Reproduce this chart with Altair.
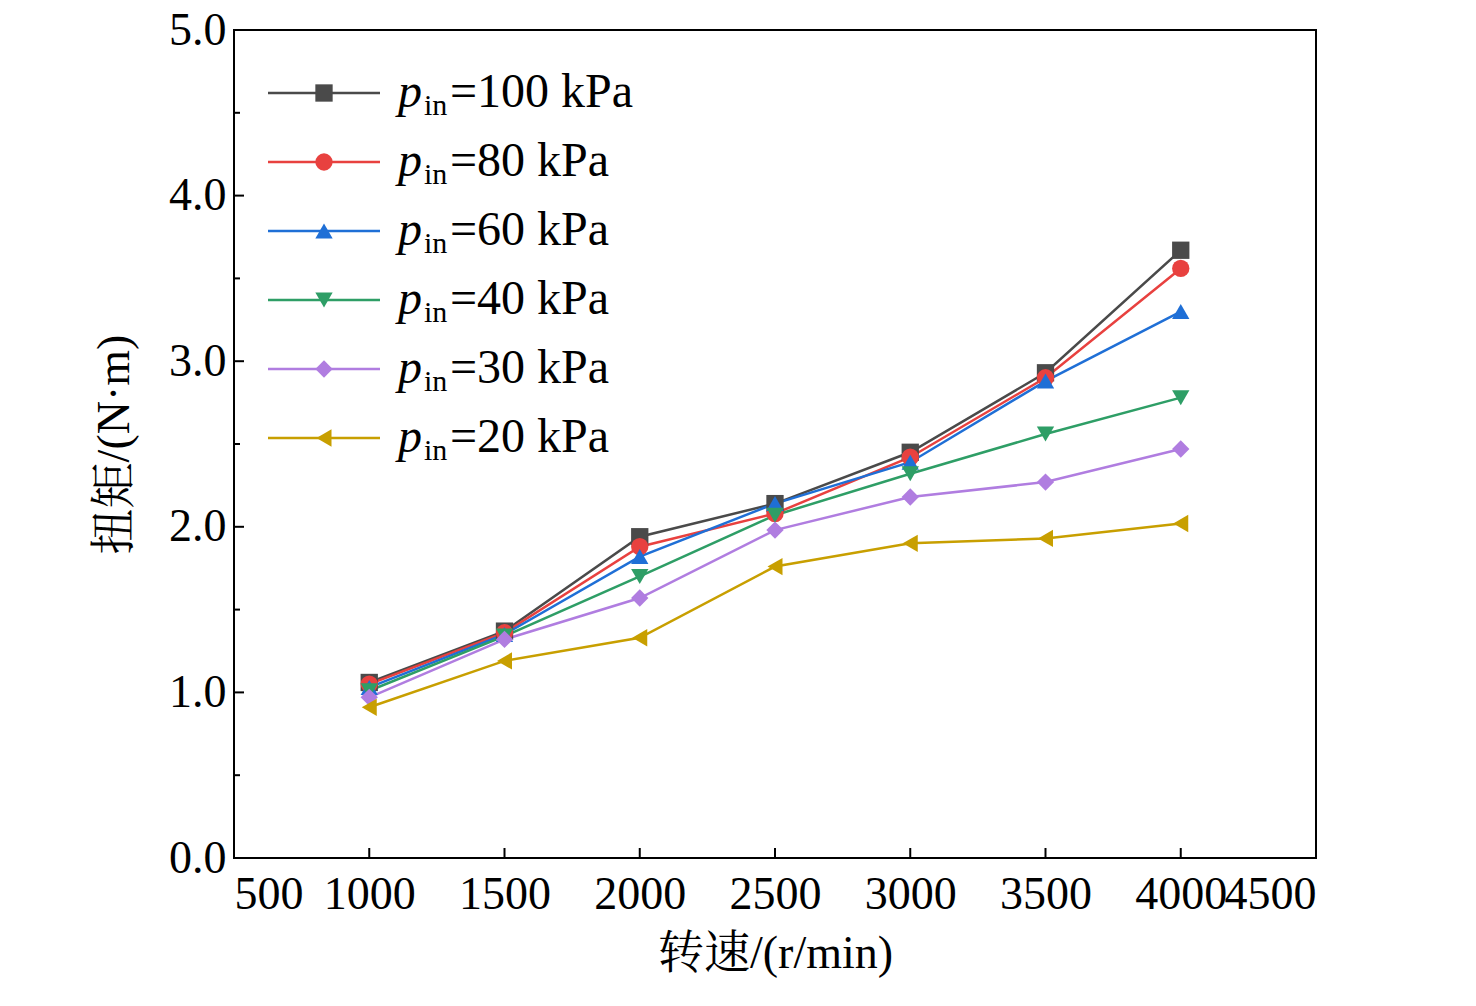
import altair as alt
import pandas as pd

speeds = [1000, 1500, 2000, 2500, 3000, 3500, 4000]
series = ["100", "80", "60", "40", "30", "20"]
torque = {
    "100": [1.06, 1.37, 1.94, 2.14, 2.45, 2.93, 3.67],
    "80": [1.05, 1.36, 1.88, 2.08, 2.42, 2.90, 3.56],
    "60": [1.03, 1.35, 1.82, 2.14, 2.39, 2.88, 3.30],
    "40": [1.01, 1.34, 1.70, 2.07, 2.32, 2.56, 2.78],
    "30": [0.97, 1.32, 1.57, 1.98, 2.18, 2.27, 2.47],
    "20": [0.91, 1.19, 1.33, 1.76, 1.90, 1.93, 2.02],
}
colors = ["#4a4a4a", "#e8413f", "#1f6fd6", "#2e9e66", "#b07de0", "#c89f00"]
shapes = ["square", "circle", "triangle-up", "triangle-down", "diamond", "triangle-left"]
x_ticks = [500, 1000, 1500, 2000, 2500, 3000, 3500, 4000, 4500]
y_major = [0, 1, 2, 3, 4, 5]
y_minor = [0.5, 1.5, 2.5, 3.5, 4.5]

W, H = 1082, 828
FONT = "Liberation Serif, Noto Serif CJK SC, Noto Sans CJK SC"

rows = []
for s in series:
    for x, v in zip(speeds, torque[s]):
        rows.append({"speed": x, "torque": v, "p": s})
df = pd.DataFrame(rows)

xs = alt.Scale(domain=[500, 4500], nice=False)
ys = alt.Scale(domain=[0, 5], nice=False)
col = alt.Color("p:N", scale=alt.Scale(domain=series, range=colors), legend=None)
shp = alt.Shape("p:N", scale=alt.Scale(domain=series, range=shapes), legend=None)

base = alt.Chart(df).encode(
    x=alt.X("speed:Q", scale=xs, axis=alt.Axis(
        title="转速/(r/min)", values=x_ticks, format="d", tickSize=0, labelPadding=14,
        labelOverlap=False, grid=False, domain=False, titlePadding=14)),
    y=alt.Y("torque:Q", scale=ys, axis=alt.Axis(
        title="扭矩/(N·m)", values=y_major, tickSize=0, labelPadding=8,
        grid=False, domain=False, titlePadding=30)),
    color=col,
)
lines = base.mark_line(strokeWidth=2.5)
points = base.mark_point(filled=True, size=300, opacity=1).encode(shape=shp)

xt = alt.Chart(pd.DataFrame({"v": x_ticks[1:-1]})).mark_rule(color="black", strokeWidth=2).encode(
    x=alt.X("v:Q", scale=xs), y=alt.value(H), y2=alt.value(H - 10))
yt = alt.Chart(pd.DataFrame({"v": y_major[1:-1]})).mark_rule(color="black", strokeWidth=2).encode(
    y=alt.Y("v:Q", scale=ys), x=alt.value(0), x2=alt.value(10))
ym = alt.Chart(pd.DataFrame({"v": y_minor})).mark_rule(color="black", strokeWidth=2).encode(
    y=alt.Y("v:Q", scale=ys), x=alt.value(0), x2=alt.value(6))

# legend, rows placed in the torque scale
leg = pd.DataFrame({"p": series, "row": list(range(6))})
lc = alt.Chart(leg).transform_calculate(
    ly="5 - (63 + datum.row * 69) / 828 * 5", lab="'=' + datum.p + ' kPa'"
).encode(y=alt.Y("ly:Q", scale=ys))
leg_line = lc.mark_rule(strokeWidth=2.5).encode(x=alt.value(34), x2=alt.value(146), color=col)
leg_pt = lc.mark_point(filled=True, size=300, opacity=1).encode(x=alt.value(90), shape=shp, color=col)
leg_p = lc.mark_text(text="p", font=FONT, fontSize=48, fontStyle="italic", align="left",
                     baseline="middle", color="black").encode(x=alt.value(164))
leg_in = lc.mark_text(text="in", font=FONT, fontSize=30, align="left",
                      baseline="middle", dy=13, color="black").encode(x=alt.value(190))
leg_t = lc.mark_text(font=FONT, fontSize=48, align="left", baseline="middle",
                     color="black").encode(x=alt.value(216), text=alt.Text("lab:N"))

chart = alt.layer(lines, points, xt, yt, ym, leg_line, leg_pt, leg_p, leg_in, leg_t).properties(
    width=W, height=H, autosize="none",
    padding={"left": 226, "top": 22, "right": 150, "bottom": 140},
    background="white",
).configure_view(stroke="black", strokeWidth=2).configure_axis(
    labelFont=FONT, titleFont=FONT, labelFontSize=46, titleFontSize=46,
    labelColor="black", titleColor="black", titleFontWeight="normal",
)
chart.save("out.html", embed_options={"renderer": "svg", "actions": False})
